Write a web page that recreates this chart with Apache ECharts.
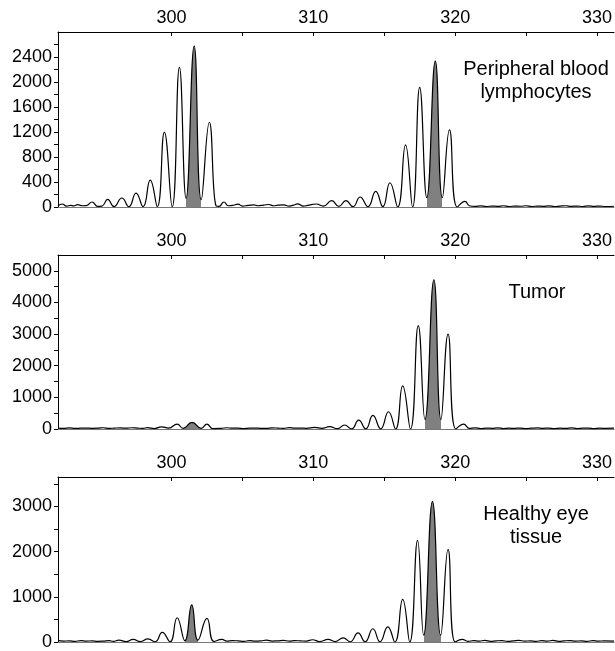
<!DOCTYPE html>
<html>
<head>
<meta charset="utf-8">
<script src="https://cdn.jsdelivr.net/npm/echarts@6/dist/echarts.min.js"></script>
<style>
html,body{margin:0;padding:0;background:#fff;}
#main{width:615px;height:651px;}
</style>
</head>
<body>
<div id="main"></div>
<script>
// fragment size (bp) vs fluorescence
var bloodTrace = [
    [292.0,20],[292.3,48],[292.6,15],[292.9,25],[293.1,18],[293.4,37],[293.7,20],[294.0,22],
    [294.4,80],[294.8,10],[295.1,15],[295.5,122],[295.95,5],[296.5,144],[297.0,5],[297.5,223],
    [298.0,5],[298.5,430],[299.0,5],[299.5,1197],[300.05,0],[300.56,2234],[301.03,140],
    [301.6,2574],[302.1,117],[302.67,1356],[303.15,15],[303.35,10],[303.7,80],[304.0,20],
    [304.3,25],[304.7,45],[305.0,15],[305.4,25],[305.8,35],[306.1,20],[306.5,30],[306.85,40],
    [307.2,20],[307.5,30],[307.9,35],[308.3,15],[308.6,30],[308.9,50],[309.3,15],[309.6,25],
    [310.2,48],[310.7,15],[311.3,101],[311.8,10],[312.3,101],[312.8,5],[313.3,160],[313.85,5],
    [314.4,250],[314.9,5],[315.4,388],[315.95,0],[316.5,995],[317.0,0],[317.5,1915],[318.0,150],
    [318.6,2335],[319.1,150],[319.6,1234],[320.15,0],[320.7,90],[321.0,20],[321.4,10],[321.8,18],
    [322.2,8],[322.6,15],[323.0,10],[323.4,20],[323.8,8],[324.2,15],[324.6,12],[325.0,20],
    [325.4,8],[325.8,15],[326.2,10],[326.6,18],[327.0,8],[327.4,15],[327.8,20],[328.2,10],
    [328.6,15],[329.0,8],[329.4,18],[329.8,10],[330.2,15],[330.6,8],[331.2,12]
];
var tumorTrace = [
    [292.0,30],[292.4,20],[292.8,35],[293.2,20],[293.6,25],[294.0,30],[294.4,20],[294.8,25],
    [295.2,40],[295.6,20],[296.0,30],[296.4,35],[296.8,25],[297.2,40],[297.6,30],[298.0,20],
    [298.3,45],[298.8,15],[299.3,70],[299.8,30],[300.4,157],[300.82,20],[301.45,210],[302.1,20],
    [302.5,157],[302.9,15],[303.5,20],[303.9,40],[304.3,25],[304.7,30],[305.1,15],[305.5,25],
    [305.9,30],[306.3,20],[306.7,20],[307.1,35],[307.5,30],[307.9,20],[308.3,45],[308.7,25],
    [309.1,30],[309.5,20],[310.1,50],[310.6,20],[311.16,73],[311.7,10],[312.2,126],[312.7,5],
    [313.2,283],[313.7,5],[314.2,430],[314.75,5],[315.3,545],[315.8,0],[316.3,1363],[316.85,0],
    [317.4,3270],[317.87,300],[318.5,4717],[319.0,300],[319.5,2998],[320.05,0],[320.6,157],
    [321.0,20],[321.4,35],[321.8,15],[322.2,30],[322.6,20],[323.0,35],[323.4,15],[323.8,25],
    [324.2,20],[324.6,30],[325.0,15],[325.4,25],[325.8,35],[326.2,20],[326.6,30],[327.0,15],
    [327.4,25],[327.8,20],[328.2,35],[328.6,15],[329.0,25],[329.4,30],[329.8,15],[330.2,25],
    [330.6,20],[331.2,25]
];
var eyeTrace = [
    [292.0,30],[292.4,20],[292.8,25],[293.2,15],[293.6,30],[294.0,20],[294.4,25],[294.8,15],
    [295.2,20],[295.6,30],[295.9,15],[296.3,40],[296.8,10],[297.3,60],[297.8,10],[298.34,71],
    [298.85,5],[299.35,214],[299.9,5],[300.4,536],[300.94,30],[301.43,821],[301.87,40],
    [302.5,521],[303.0,10],[303.56,57],[303.9,20],[304.3,30],[304.7,25],[305.1,15],[305.5,30],
    [305.9,20],[306.3,25],[306.7,40],[307.1,20],[307.5,25],[307.9,35],[308.3,20],[308.7,30],
    [309.1,25],[309.5,20],[309.95,50],[310.45,10],[311.04,57],[311.55,10],[312.1,93],[312.6,5],
    [313.15,200],[313.65,5],[314.2,293],[314.7,5],[315.25,336],[315.75,0],[316.3,943],[316.8,0],
    [317.35,2250],[317.78,150],[318.4,3107],[318.98,150],[319.5,2050],[320.0,0],[320.5,57],
    [320.9,15],[321.3,30],[321.7,20],[322.1,35],[322.5,15],[322.9,25],[323.3,30],[323.7,15],
    [324.1,25],[324.5,35],[324.9,20],[325.3,25],[325.7,15],[326.1,30],[326.5,20],[326.9,35],
    [327.3,15],[327.7,25],[328.1,30],[328.5,20],[328.9,25],[329.3,15],[329.7,30],[330.1,20],
    [330.5,25],[331.2,20]
];

// shaded (grey) peaks, as [from, to] in bp
var bloodFill = [[301.03,302.1],[318.0,319.1]];
var tumorFill = [[300.82,302.1],[317.87,319.0]];
var eyeFill = [[300.94,301.87],[317.78,318.98]];

var panelNames = ['Peripheral blood\nlymphocytes', 'Tumor', 'Healthy eye\ntissue'];
var xLabels = [300,310,320,330];
var xTicks = [300,305,310,315,320,325,330];
var yMax = [2800, 5500, 3650];
var yLabels = [[0,400,800,1200,1600,2000,2400],[0,1000,2000,3000,4000,5000],[0,1000,2000,3000]];
var yTicks = [
    [0,200,400,600,800,1000,1200,1400,1600,1800,2000,2200,2400,2600],
    [0,500,1000,1500,2000,2500,3000,3500,4000,4500,5000],
    [0,500,1000,1500,2000,2500,3000,3500]
];

var FONT = '"Liberation Sans", Arial, sans-serif';
var traces = [bloodTrace, tumorTrace, eyeTrace];
var fills = [bloodFill, tumorFill, eyeFill];

var grids = [
    {left:58, right:0, top:32, bottom:444},
    {left:58, right:0, top:255, bottom:222},
    {left:58, right:0, top:477, bottom:1}
];

function plain(v) { return String(v); }

var xAxes = [], yAxes = [], series = [], vmaps = [];
for (var i = 0; i < 3; i++) {
    xAxes.push({
        type:'value', gridIndex:i, position:'top', min:292, max:331.2,
        splitLine:{show:false},
        axisLine:{show:true, onZero:false, lineStyle:{color:'#000', width:1}},
        axisTick:{show:true, inside:true, length:4, customValues:xTicks, lineStyle:{color:'#000'}},
        axisLabel:{customValues:xLabels, formatter:plain, color:'#000', fontSize:18, fontFamily:FONT, margin:5}
    });
    yAxes.push({
        type:'value', gridIndex:i, min:0, max:yMax[i],
        splitLine:{show:false},
        axisLine:{show:true, lineStyle:{color:'#000', width:1}},
        axisTick:{show:true, length:4, customValues:yTicks[i], lineStyle:{color:'#000'}},
        axisLabel:{customValues:yLabels[i], formatter:plain, color:'#000', fontSize:18, fontFamily:FONT, margin:6}
    });
    series.push({
        type:'line', xAxisIndex:i, yAxisIndex:i,
        data:traces[i], showSymbol:false, smooth:0.5,
        lineStyle:{color:'#000', width:1.2},
        areaStyle:{opacity:1},
        silent:true
    });
    vmaps.push({
        type:'piecewise', show:false, seriesIndex:i, dimension:0,
        pieces:fills[i].map(function (r) { return {gte:r[0], lte:r[1], color:'#808080'}; }),
        outOfRange:{color:'rgba(255,255,255,0)'}
    });
}
// grey base line under each panel
for (var j = 0; j < 3; j++) {
    xAxes.push({
        type:'value', gridIndex:j, position:'bottom', min:292, max:331.2,
        splitLine:{show:false},
        axisLine:{show:true, onZero:false, lineStyle:{color:'#777', width:1}},
        axisTick:{show:false}, axisLabel:{show:false}
    });
}

var labelPos = [[536,81],[537,292],[536,526]];

var myChart = echarts.init(document.getElementById('main'));
var option = {
    animation:false,
    backgroundColor:'#fff',
    grid:grids,
    xAxis:xAxes,
    yAxis:yAxes,
    visualMap:vmaps,
    series:series,
    graphic:panelNames.map(function (t, k) {
        return {
            type:'text', x:labelPos[k][0], y:labelPos[k][1],
            style:{text:t, fill:'#000', font:'20px ' + FONT,
                   textAlign:'center', textVerticalAlign:'middle', lineHeight:23}
        };
    })
};
myChart.setOption(option);
</script>
</body>
</html>
